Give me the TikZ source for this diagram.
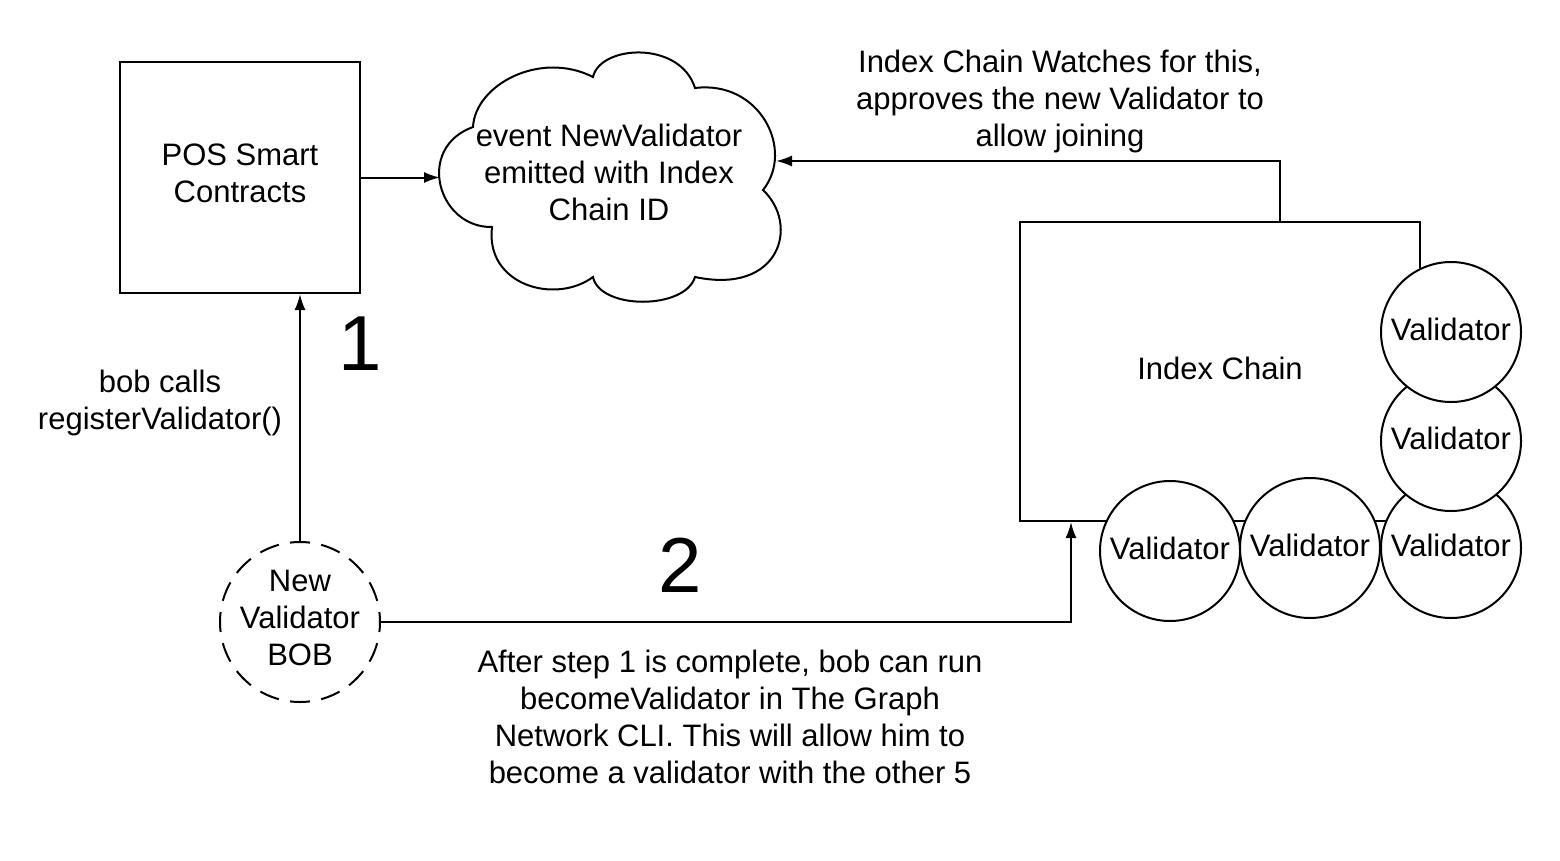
\documentclass[tikz,border=0pt]{standalone}
\usepackage{fontspec}
\setmainfont{Liberation Sans}
\usetikzlibrary{arrows.meta}

\begin{document}
\begin{tikzpicture}[x=1pt, y=-1pt, >={Latex[length=16pt,width=11pt]}, line width=2pt,
  every node/.style={align=center, inner sep=0pt, font=\fontsize{31}{37}\selectfont},
  box/.style={draw, fill=white},
  val/.style={draw, fill=white, circle, minimum size=140pt, text depth=6pt},
  bignum/.style={font=\fontsize{78}{90}\selectfont}]
\useasboundingbox (0,0) rectangle (1560,860);
\node[box, minimum width=240pt, minimum height=231pt, text depth=8pt] (pos) at (240,177.5) {POS Smart\\Contracts};
% cloud for the emitted event
\draw (492,227) .. controls (438,228) and (415,148) .. (473,127)
  .. controls (475,85) and (540,50) .. (593,77)
  .. controls (600,45) and (680,40) .. (695,88)
  .. controls (760,80) and (795,150) .. (763,190)
  .. controls (800,225) and (780,295) .. (695,277)
  .. controls (685,310) and (600,310) .. (593,277)
  .. controls (555,305) and (485,285) .. cycle;
\coordinate (evtin) at (440,177);
\coordinate (evtout) at (776,161);
\node (evt) at (609,172) {event NewValidator\\emitted with Index\\Chain ID};
\node[box, minimum width=400pt, minimum height=299pt, text depth=6pt] (chain) at (1220,371.5) {Index Chain};
\node[val] (val5) at (1451,548) {Validator};
\node[val] (val4) at (1451,441) {Validator};
\node[val] (val3) at (1451,332) {Validator};
\node[val] (val1) at (1170,551) {Validator};
\node[val] (val2) at (1310,548) {Validator};
\node[draw, circle, minimum size=160pt, text depth=8pt, dash pattern=on 20pt off 11.416pt, dash phase=10pt] (bob) at (300,622) {New\\Validator\\BOB};
\node[bignum] (num1) at (360,344) {1};
\node[bignum] (num2) at (680,565) {2};
\node (watchlbl) at (1060,101) {Index Chain Watches for this,\\approves the new Validator to\\allow joining};
\node (calllbl) at (160,403) {bob calls\\registerValidator()};
\node (steplbl) at (730,717) {After step 1 is complete, bob can run\\becomeValidator in The Graph\\Network CLI. This will allow him to\\become a validator with the other 5};
\draw[->] (pos.east) -- (pos.east -| evtin);
\draw[->] ([xshift=60pt]chain.north) |- (evtout);
\draw[->] (bob.north) -- (bob.north |- pos.south);
\draw[->] (bob.east) -| ([xshift=-149pt]chain.south);
\end{tikzpicture}
\end{document}
